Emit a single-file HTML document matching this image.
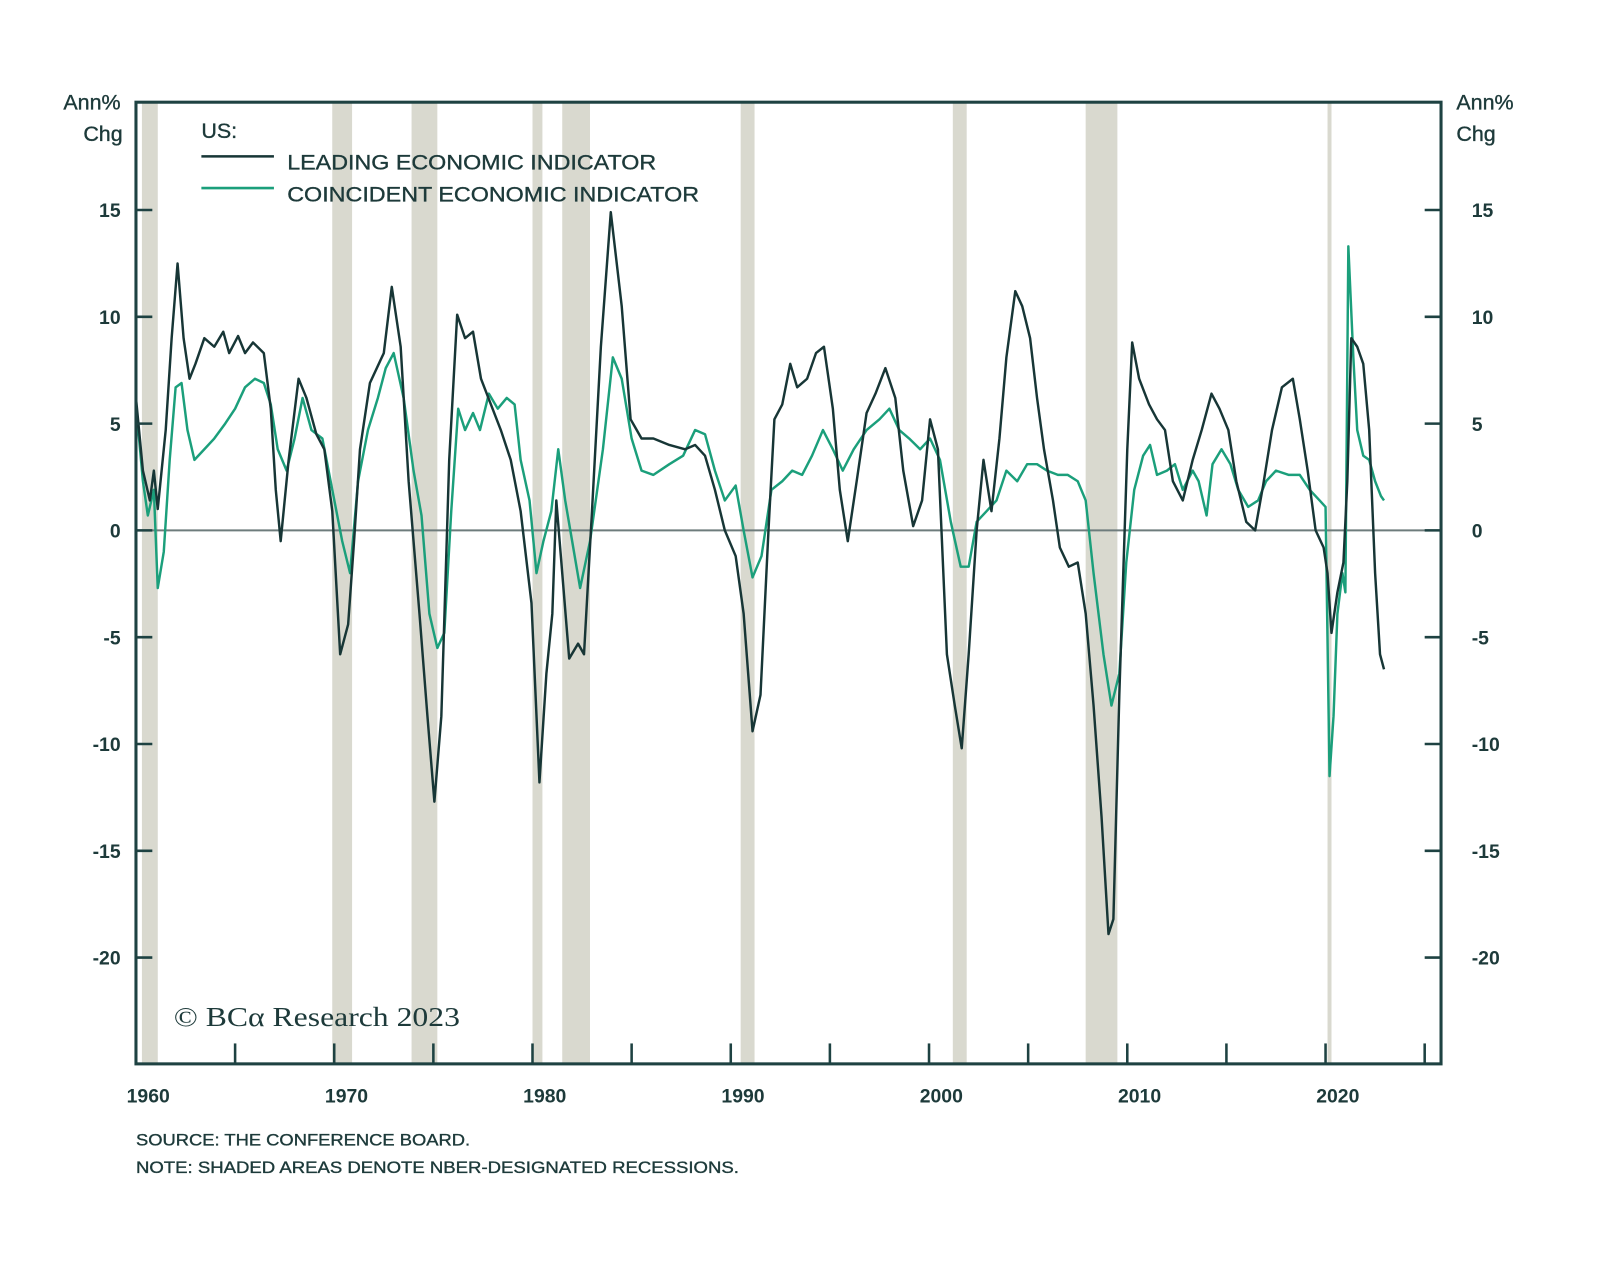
<!DOCTYPE html>
<html><head><meta charset="utf-8"><style>
html,body{margin:0;padding:0;background:#fff;}
svg{display:block;font-family:"Liberation Sans",sans-serif;}
</style></head><body>
<svg id="chart" width="1600" height="1279" viewBox="0 0 1565.5 1251.5"></svg>
<script>
const leiYears=[1960.0,1960.35,1960.7,1960.9,1961.1,1961.5,1961.8,1962.1,1962.4,1962.7,1963.0,1963.45,1963.95,1964.4,1964.7,1965.15,1965.5,1965.9,1966.45,1966.8,1967.05,1967.3,1967.7,1968.2,1968.6,1969.1,1969.5,1969.9,1970.3,1970.7,1971.0,1971.3,1971.8,1972.5,1972.9,1973.35,1973.75,1974.3,1974.7,1975.05,1975.4,1975.8,1976.2,1976.6,1977.0,1977.4,1977.9,1978.4,1978.9,1979.4,1979.95,1980.35,1980.7,1981.0,1981.2,1981.5,1981.85,1982.3,1982.6,1983.0,1983.45,1983.95,1984.5,1984.95,1985.5,1986.1,1986.9,1987.7,1988.2,1988.7,1989.2,1989.7,1990.25,1990.65,1991.1,1991.5,1991.9,1992.2,1992.6,1993.0,1993.35,1993.85,1994.3,1994.7,1995.15,1995.5,1995.9,1996.35,1996.85,1997.3,1997.8,1998.3,1998.7,1999.2,1999.65,2000.05,2000.45,2000.9,2001.3,2001.65,2002.0,2002.4,2002.75,2003.15,2003.55,2003.9,2004.35,2004.7,2005.1,2005.45,2005.8,2006.25,2006.6,2007.05,2007.5,2007.9,2008.3,2008.7,2009.05,2009.3,2009.6,2010.0,2010.25,2010.6,2011.1,2011.5,2011.9,2012.3,2012.8,2013.3,2013.75,2014.25,2014.65,2015.1,2015.5,2016.0,2016.45,2016.85,2017.3,2017.8,2018.35,2018.7,2019.1,2019.5,2019.9,2020.1,2020.3,2020.6,2020.9,2021.1,2021.3,2021.6,2021.9,2022.2,2022.5,2022.75,2022.95];
const leiValues=[6.2,2.8,1.4,2.8,1.0,4.7,9,12.5,9,7.1,7.8,9,8.6,9.3,8.3,9.1,8.3,8.8,8.3,5.7,1.9,-0.5,3.3,7.1,6.2,4.5,3.8,0.9,-5.8,-4.4,-0.5,3.8,6.9,8.3,11.4,8.6,2.3,-3.9,-8.7,-12.7,-8.7,3.3,10.1,9.0,9.3,7.1,5.9,4.7,3.3,0.9,-3.4,-11.8,-6.7,-3.9,1.4,-2.0,-6.0,-5.3,-5.8,0.9,8.6,14.9,10.5,5.2,4.3,4.3,4.0,3.8,4.0,3.5,1.9,0,-1.2,-3.9,-9.4,-7.7,0,5.2,5.9,7.8,6.7,7.1,8.3,8.6,5.7,1.9,-0.5,2.3,5.5,6.4,7.6,6.2,2.8,0.2,1.4,5.2,3.8,-5.8,-8.2,-10.2,-5.8,0,3.3,0.9,4.3,8.1,11.2,10.5,9.0,6.2,3.8,1.4,-0.8,-1.7,-1.5,-3.9,-8.2,-13.4,-18.9,-18.2,-7.7,3.8,8.8,7.1,5.9,5.2,4.7,2.3,1.4,3.3,4.7,6.4,5.7,4.7,2.3,0.4,0,2.1,4.7,6.7,7.1,5.2,2.8,0,-0.8,-2.0,-4.8,-2.9,-1.5,2.3,9.0,8.6,7.8,4.7,-2.0,-5.8,-6.5];
const ceiYears=[1960.0,1960.35,1960.6,1960.9,1961.1,1961.4,1961.7,1962.0,1962.3,1962.6,1962.95,1963.45,1963.95,1964.5,1965.0,1965.5,1966.0,1966.45,1966.8,1967.15,1967.6,1968.0,1968.4,1968.85,1969.4,1969.9,1970.4,1970.8,1971.2,1971.7,1972.2,1972.6,1973.0,1973.5,1974.0,1974.4,1974.8,1975.2,1975.55,1975.9,1976.25,1976.6,1977.0,1977.35,1977.8,1978.25,1978.7,1979.1,1979.4,1979.85,1980.2,1980.55,1980.95,1981.3,1981.65,1982.0,1982.4,1982.9,1983.55,1984.05,1984.5,1985.0,1985.5,1986.1,1986.9,1987.6,1988.2,1988.7,1989.2,1989.7,1990.25,1990.65,1991.1,1991.55,1992.05,1992.6,1993.1,1993.6,1994.1,1994.65,1995.15,1995.65,1996.2,1996.85,1997.5,1998.0,1998.5,1999.0,1999.55,2000.05,2000.55,2001.1,2001.6,2002.0,2002.4,2002.9,2003.4,2003.9,2004.45,2004.95,2005.45,2005.95,2006.5,2007.0,2007.5,2007.9,2008.3,2008.8,2009.2,2009.6,2009.95,2010.35,2010.8,2011.15,2011.5,2012.0,2012.4,2012.8,2013.3,2013.6,2014.0,2014.3,2014.75,2015.2,2015.6,2016.1,2016.6,2017.0,2017.5,2018.15,2018.7,2019.2,2019.7,2020.0,2020.2,2020.4,2020.6,2020.85,2021.0,2021.15,2021.4,2021.6,2021.9,2022.2,2022.5,2022.8,2022.95];
const ceiValues=[5.9,2.3,0.7,1.9,-2.7,-1.0,3.3,6.7,6.9,4.7,3.3,3.8,4.3,5.0,5.7,6.7,7.1,6.9,5.9,3.8,2.8,4.3,6.2,4.7,4.3,1.9,-0.5,-2.0,2.3,4.7,6.2,7.6,8.3,6.2,2.8,0.7,-3.9,-5.5,-4.8,0.9,5.7,4.7,5.5,4.7,6.4,5.7,6.2,5.9,3.3,1.4,-2.0,-0.5,0.9,3.8,1.4,-0.5,-2.7,-0.5,3.8,8.1,7.1,4.3,2.8,2.6,3.1,3.5,4.7,4.5,2.8,1.4,2.1,0,-2.2,-1.2,1.9,2.3,2.8,2.6,3.5,4.7,3.8,2.8,3.8,4.7,5.2,5.7,4.7,4.3,3.8,4.3,3.3,0.4,-1.7,-1.7,0.4,0.9,1.4,2.8,2.3,3.1,3.1,2.8,2.6,2.6,2.3,1.4,-2.0,-5.8,-8.2,-6.7,-1.5,1.9,3.5,4.0,2.6,2.8,3.1,1.9,2.8,2.3,0.7,3.1,3.8,3.1,1.9,1.1,1.4,2.3,2.8,2.6,2.6,1.9,1.4,1.1,-11.5,-8.7,-3.9,-2.0,-2.9,13.3,8.1,4.7,3.5,3.3,2.3,1.6,1.4];
const recStart=[1960.3,1969.9,1973.9,1980.0,1981.5,1990.5,2001.2,2007.9,2020.1];
const recEnd=[1961.1,1970.9,1975.2,1980.5,1982.9,1991.2,2001.9,2009.5,2020.3];
const yTicks=[15,10,5,0,-5,-10,-15,-20];
const xTickYears=[1965,1970,1975,1980,1985,1990,1995,2000,2005,2010,2015,2020,2025];
const xLabels=[1960,1970,1980,1990,2000,2010,2020];

const L=133,R=1410,T=100,B=1041;
const X=yr=>327+(yr-1970)*19.4;
const Y=v=>519-v*20.9;
const NS='http://www.w3.org/2000/svg';
const svg=document.getElementById('chart');
function mk(tag,attrs,parent){const e=document.createElementNS(NS,tag);for(const k in attrs)e.setAttribute(k,attrs[k]);(parent||svg).appendChild(e);return e;}
const AX='#1e4242', TXT='#1d3a3a';

const recG=mk('g',{});


recStart.forEach((s,i)=>{
  const r=mk('rect',{x:X(s),y:T,width:Math.max(3,X(recEnd[i])-X(s)),height:B-T,fill:'#d9d9cf'},recG);
  
  
});
const z=mk('line',{x1:L,x2:R,y1:Y(0),y2:Y(0),stroke:'#6e7c7c','stroke-width':2});



function line(xs,vs,color,name){
  const d=xs.map((x,i)=>(i?'L':'M')+X(x).toFixed(1)+' '+Y(vs[i]).toFixed(1)).join(' ');
  const p=mk('path',{d:d,fill:'none',stroke:color,'stroke-width':2.4,'stroke-linejoin':'round'});
  
  
}
line(ceiYears,ceiValues,'#1b9f7b','coincident-indicator-line');
line(leiYears,leiValues,'#173636','leading-indicator-line');

const frame=mk('rect',{x:L,y:T,width:R-L,height:B-T,fill:'none',stroke:AX,'stroke-width':3});



yTicks.forEach(v=>{
  mk('line',{x1:L,x2:L+16,y1:Y(v),y2:Y(v),stroke:AX,'stroke-width':2.5});
  mk('line',{x1:R-16,x2:R,y1:Y(v),y2:Y(v),stroke:AX,'stroke-width':2.5});
  const t1=mk('text',{x:118,y:Y(v)+7,'text-anchor':'end','font-size':19,'font-weight':'bold',fill:TXT});
  t1.textContent=v;
  
  
  const t2=mk('text',{x:1440,y:Y(v)+7,'text-anchor':'start','font-size':19,'font-weight':'bold',fill:TXT});
  t2.textContent=v;
  
  
});
xTickYears.forEach(yr=>{
  mk('line',{x1:X(yr),x2:X(yr),y1:B-20,y2:B,stroke:AX,'stroke-width':2.5});
});
xLabels.forEach(yr=>{
  const t=mk('text',{x:X(yr)+12,y:1079,'text-anchor':'middle','font-size':19,'font-weight':'bold',fill:TXT});
  t.textContent=yr;
  
  
});
</script>
<svg width="1600" height="1279" viewBox="0 0 1565.5 1251.5" style="position:absolute;left:0;top:0;pointer-events:none">
<g font-family="Liberation Sans, sans-serif" fill="#1d3a3a" font-size="21" stroke="#1d3a3a" stroke-width="0.35">
<text x="118" y="107" text-anchor="end">Ann%</text>
<text x="120" y="138" text-anchor="end">Chg</text>
<text x="1425" y="107">Ann%</text>
<text x="1425" y="138">Chg</text>
<text x="197" y="135">US:</text>
<line x1="197" x2="268" y1="153" y2="153" stroke="#173636" stroke-width="2.5"/>
<text x="281" y="166" textLength="361" lengthAdjust="spacingAndGlyphs">LEADING ECONOMIC INDICATOR</text>
<line x1="197" x2="268" y1="184" y2="184" stroke="#1b9f7b" stroke-width="2.5"/>
<text x="281" y="197" textLength="403" lengthAdjust="spacingAndGlyphs">COINCIDENT ECONOMIC INDICATOR</text>
<text x="170" y="1004" font-family="Liberation Serif, serif" font-size="27" stroke-width="0" textLength="280" lengthAdjust="spacingAndGlyphs">© BCα Research 2023</text>
<text x="133" y="1121" font-size="16" textLength="327" lengthAdjust="spacingAndGlyphs">SOURCE: THE CONFERENCE BOARD.</text>
<text x="133" y="1148" font-size="16" textLength="590" lengthAdjust="spacingAndGlyphs">NOTE: SHADED AREAS DENOTE NBER-DESIGNATED RECESSIONS.</text>
</g>
</svg>
</body></html>
